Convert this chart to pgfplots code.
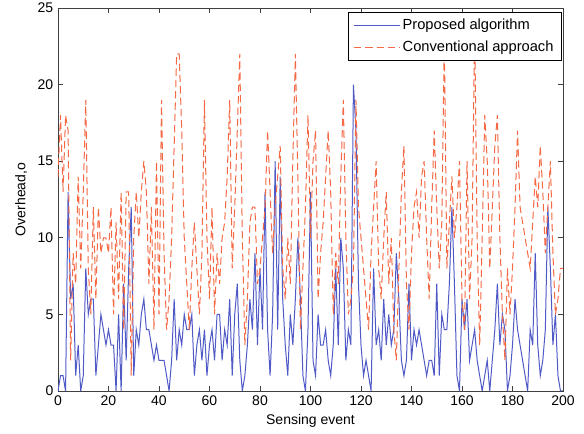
\documentclass[border=0pt]{standalone}
\usepackage{fontspec}
\setmainfont{Liberation Sans}
\usepackage{pgfplots}
\pgfplotsset{compat=1.18}

\definecolor{propblue}{RGB}{80,90,198}
\definecolor{convred}{RGB}{245,105,68}

\begin{document}
\begin{tikzpicture}
\begin{axis}[
    name=ax,
    scale only axis,
    width=378.75pt, height=287.25pt,
    xmin=0, xmax=200, ymin=0, ymax=25,
    xtick={0,20,...,200}, ytick={0,5,...,25},
    tick align=inside,
    major tick length=4pt,
    axis line style={black!75, line width=0.7pt},
    every tick/.style={black!75, line width=0.5pt},
    tick label style={font=\fontsize{10.5}{12}\selectfont},
    /pgf/number format/assume math mode=true,
    xlabel={Sensing event}, ylabel={Overhead,o},
    label style={font=\fontsize{10.5}{12}\selectfont},
    xlabel style={yshift=0pt},
    ylabel style={yshift=1pt},
    legend style={at={(0.998,0.99)}, anchor=north east,
        font=\fontsize{11}{12}\selectfont, draw=black, line width=0.7pt,
        fill=white, inner xsep=4pt, inner ysep=3pt, row sep=3pt},
    legend cell align=left,
    legend image code/.code={\draw[#1] (0cm,0cm) -- (1.2cm,0cm);},
]
% Proposed algorithm
\addplot[propblue, line width=0.75pt] coordinates {
(0,0) (1,1) (2,1) (3,0) (4,13) (5,6) (6,7) (7,1) (8,3) (9,0)
(10,1) (11,8) (12,5) (13,6) (14,6) (15,1) (16,3) (17,5) (18,4) (19,3)
(20,4) (21,3) (22,3) (23,0) (24,5) (25,0) (26,7) (27,2) (28,8) (29,12)
(30,1) (31,4) (32,3) (33,5) (34,6) (35,4) (36,4) (37,3) (38,2) (39,3)
(40,2) (41,2) (42,2) (43,1) (44,0) (45,2) (46,6) (47,2) (48,4) (49,3)
(50,5) (51,4) (52,4) (53,5) (54,1) (55,3) (56,4) (57,2) (58,4) (59,1)
(60,3) (61,4) (62,2) (63,5) (64,5) (65,2) (66,4) (67,3) (68,6) (69,1)
(70,5) (71,7) (72,2) (73,0) (74,1) (75,3) (76,6) (77,4) (78,9) (79,3)
(80,8) (81,4) (82,13) (83,4) (84,1) (85,5) (86,15) (87,4) (88,14) (89,6)
(90,3) (91,1) (92,5) (93,3) (94,6) (95,10) (96,6) (97,1) (98,0) (99,4)
(100,13) (101,2) (102,1) (103,5) (104,3) (105,3) (106,4) (107,2) (108,1) (109,3)
(110,8) (111,3) (112,10) (113,8) (114,2) (115,4) (116,3) (117,20) (118,17) (119,7)
(120,3) (121,1) (122,2) (123,1) (124,0) (125,8) (126,3) (127,4) (128,2) (129,6)
(130,3) (131,5) (132,3) (133,4) (134,9) (135,6) (136,2) (137,1) (138,2) (139,7)
(140,2) (141,4) (142,3) (143,4) (144,3) (145,2) (146,1) (147,2) (148,2) (149,1)
(150,7) (151,1) (152,5) (153,4) (154,4) (155,7) (156,12) (157,7) (158,1) (159,0)
(160,6) (161,4) (162,6) (163,2) (164,3) (165,4) (166,2) (167,1) (168,0) (169,1)
(170,2) (171,0) (172,2) (173,4) (174,7) (175,3) (176,5) (177,4) (178,0) (179,1)
(180,3) (181,6) (182,4) (183,3) (184,2) (185,1) (186,0) (187,4) (188,3) (189,9)
(190,3) (191,1) (192,2) (193,4) (194,12) (195,8) (196,3) (197,5) (198,1) (199,0)
(200,0)
};
\addlegendentry{Proposed algorithm}
% Conventional approach
\addplot[convred, line width=0.75pt, dash pattern=on 5.5pt off 3pt] coordinates {
(0,14) (1,18) (2,13) (3,18) (4,17) (5,2) (6,9) (7,7) (8,14) (9,8)
(10,13) (11,19) (12,8) (13,5) (14,12) (15,6) (16,12) (17,9) (18,10) (19,10)
(20,9) (21,12) (22,5) (23,11) (24,6) (25,13) (26,4) (27,13) (28,13) (29,1)
(30,10) (31,13) (32,10) (33,13) (34,15) (35,13) (36,7) (37,12) (38,4) (39,15)
(40,5) (41,19) (42,9) (43,4) (44,6) (45,10) (46,16) (47,22) (48,22) (49,17)
(50,10) (51,7) (52,4) (53,8) (54,11) (55,8) (56,5) (57,9) (58,19) (59,10)
(60,6) (61,12) (62,5) (63,9) (64,7) (65,10) (66,11) (67,14) (68,19) (69,8)
(70,12) (71,17) (72,22) (73,10) (74,3) (75,6) (76,11) (77,12) (78,12) (79,7)
(80,8) (81,10) (82,12) (83,17) (84,13) (85,9) (86,12) (87,14) (88,16) (89,8)
(90,6) (91,10) (92,7) (93,15) (94,22) (95,14) (96,4) (97,8) (98,12) (99,18)
(100,10) (101,15) (102,17) (103,6) (104,9) (105,11) (106,14) (107,17) (108,13) (109,5)
(110,9) (111,7) (112,14) (113,19) (114,10) (115,5) (116,6) (117,8) (118,19) (119,12)
(120,10) (121,8) (122,6) (123,4) (124,9) (125,12) (126,15) (127,8) (128,6) (129,10)
(130,13) (131,7) (132,10) (133,4) (134,2) (135,8) (136,13) (137,16) (138,7) (139,4)
(140,9) (141,12) (142,13) (143,10) (144,14) (145,15) (146,10) (147,6) (148,12) (149,17)
(150,12) (151,8) (152,11) (153,23) (154,8) (155,11) (156,14) (157,10) (158,12) (159,15)
(160,6) (161,4) (162,15) (163,6) (164,10) (165,24) (166,10) (167,3) (168,10) (169,18)
(170,15) (171,8) (172,12) (173,16) (174,18) (175,10) (176,5) (177,2) (178,8) (179,5)
(180,8) (181,12) (182,17) (183,12) (184,11) (185,10) (186,9) (187,8) (188,11) (189,14)
(190,12) (191,16) (192,13) (193,9) (194,12) (195,15) (196,9) (197,5) (198,6) (199,8)
(200,8)
};
\addlegendentry{Conventional approach}
\end{axis}
\pgfresetboundingbox
\path (ax.south west)++(-43.5pt,-32.25pt) rectangle ([shift={(15.75pt,6pt)}]ax.north east);
\end{tikzpicture}
\end{document}
